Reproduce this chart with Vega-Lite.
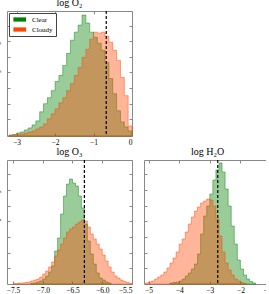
{
  "$schema": "https://vega.github.io/schema/vega-lite/v6.json",
  "padding": {"left": -9, "top": -3, "right": -6, "bottom": 0},
  "datasets": {
    "o2": [
      {"x": -3.2, "h": 1, "s": "Clear"}, {"x": -3.1, "h": 1.5, "s": "Clear"}, {"x": -3.0, "h": 3, "s": "Clear"}, {"x": -2.9, "h": 4, "s": "Clear"},
      {"x": -2.8, "h": 6, "s": "Clear"}, {"x": -2.7, "h": 8, "s": "Clear"}, {"x": -2.6, "h": 11, "s": "Clear"}, {"x": -2.5, "h": 15, "s": "Clear"},
      {"x": -2.4, "h": 24, "s": "Clear"}, {"x": -2.3, "h": 32, "s": "Clear"}, {"x": -2.2, "h": 38, "s": "Clear"}, {"x": -2.1, "h": 45, "s": "Clear"},
      {"x": -2.0, "h": 54, "s": "Clear"}, {"x": -1.9, "h": 60, "s": "Clear"}, {"x": -1.8, "h": 70, "s": "Clear"}, {"x": -1.7, "h": 82, "s": "Clear"},
      {"x": -1.6, "h": 95, "s": "Clear"}, {"x": -1.5, "h": 103, "s": "Clear"}, {"x": -1.4, "h": 110, "s": "Clear"}, {"x": -1.3, "h": 120, "s": "Clear"},
      {"x": -1.2, "h": 112, "s": "Clear"}, {"x": -1.1, "h": 103, "s": "Clear"}, {"x": -1.0, "h": 98, "s": "Clear"}, {"x": -0.9, "h": 92, "s": "Clear"},
      {"x": -0.8, "h": 85, "s": "Clear"}, {"x": -0.7, "h": 73, "s": "Clear"}, {"x": -0.6, "h": 57, "s": "Clear"}, {"x": -0.5, "h": 42, "s": "Clear"},
      {"x": -0.4, "h": 25, "s": "Clear"}, {"x": -0.3, "h": 14, "s": "Clear"}, {"x": -0.2, "h": 9, "s": "Clear"}, {"x": -0.1, "h": 5, "s": "Clear"},
      {"x": 0.0, "h": 0, "s": "Clear"},
      {"x": -3.2, "h": 0.5, "s": "Cloudy"}, {"x": -3.1, "h": 1, "s": "Cloudy"}, {"x": -3.0, "h": 1.5, "s": "Cloudy"}, {"x": -2.9, "h": 2, "s": "Cloudy"},
      {"x": -2.8, "h": 3, "s": "Cloudy"}, {"x": -2.7, "h": 4, "s": "Cloudy"}, {"x": -2.6, "h": 5, "s": "Cloudy"}, {"x": -2.5, "h": 7, "s": "Cloudy"},
      {"x": -2.4, "h": 9, "s": "Cloudy"}, {"x": -2.3, "h": 12, "s": "Cloudy"}, {"x": -2.2, "h": 17, "s": "Cloudy"}, {"x": -2.1, "h": 22, "s": "Cloudy"},
      {"x": -2.0, "h": 27, "s": "Cloudy"}, {"x": -1.9, "h": 33, "s": "Cloudy"}, {"x": -1.8, "h": 38, "s": "Cloudy"}, {"x": -1.7, "h": 45, "s": "Cloudy"},
      {"x": -1.6, "h": 52, "s": "Cloudy"}, {"x": -1.5, "h": 60, "s": "Cloudy"}, {"x": -1.4, "h": 68, "s": "Cloudy"}, {"x": -1.3, "h": 78, "s": "Cloudy"},
      {"x": -1.2, "h": 86, "s": "Cloudy"}, {"x": -1.1, "h": 96, "s": "Cloudy"}, {"x": -1.0, "h": 103, "s": "Cloudy"}, {"x": -0.9, "h": 102, "s": "Cloudy"},
      {"x": -0.8, "h": 103, "s": "Cloudy"}, {"x": -0.7, "h": 99, "s": "Cloudy"}, {"x": -0.6, "h": 93, "s": "Cloudy"}, {"x": -0.5, "h": 85, "s": "Cloudy"},
      {"x": -0.4, "h": 75, "s": "Cloudy"}, {"x": -0.3, "h": 58, "s": "Cloudy"}, {"x": -0.2, "h": 40, "s": "Cloudy"}, {"x": -0.1, "h": 10, "s": "Cloudy"},
      {"x": 0.0, "h": 0, "s": "Cloudy"}
    ],
    "o3": [
      {"x": -7.2, "h": 0.5, "s": "Clear"}, {"x": -7.15, "h": 1, "s": "Clear"}, {"x": -7.1, "h": 2, "s": "Clear"}, {"x": -7.05, "h": 3, "s": "Clear"},
      {"x": -7.0, "h": 5, "s": "Clear"}, {"x": -6.95, "h": 8, "s": "Clear"}, {"x": -6.9, "h": 12, "s": "Clear"}, {"x": -6.85, "h": 18, "s": "Clear"},
      {"x": -6.8, "h": 33, "s": "Clear"}, {"x": -6.75, "h": 46, "s": "Clear"}, {"x": -6.7, "h": 70, "s": "Clear"}, {"x": -6.65, "h": 88, "s": "Clear"},
      {"x": -6.6, "h": 100, "s": "Clear"}, {"x": -6.55, "h": 105, "s": "Clear"}, {"x": -6.5, "h": 101, "s": "Clear"}, {"x": -6.45, "h": 98, "s": "Clear"},
      {"x": -6.4, "h": 88, "s": "Clear"}, {"x": -6.35, "h": 76, "s": "Clear"}, {"x": -6.3, "h": 60, "s": "Clear"}, {"x": -6.25, "h": 43, "s": "Clear"},
      {"x": -6.2, "h": 30, "s": "Clear"}, {"x": -6.15, "h": 20, "s": "Clear"}, {"x": -6.1, "h": 11, "s": "Clear"}, {"x": -6.05, "h": 6, "s": "Clear"},
      {"x": -6.0, "h": 4, "s": "Clear"}, {"x": -5.95, "h": 2, "s": "Clear"}, {"x": -5.9, "h": 1, "s": "Clear"}, {"x": -5.85, "h": 0, "s": "Clear"},
      {"x": -7.5, "h": 0.5, "s": "Cloudy"}, {"x": -7.45, "h": 0.5, "s": "Cloudy"}, {"x": -7.4, "h": 1, "s": "Cloudy"}, {"x": -7.35, "h": 1, "s": "Cloudy"},
      {"x": -7.3, "h": 1.5, "s": "Cloudy"}, {"x": -7.25, "h": 2, "s": "Cloudy"}, {"x": -7.2, "h": 3, "s": "Cloudy"}, {"x": -7.15, "h": 4, "s": "Cloudy"},
      {"x": -7.1, "h": 5, "s": "Cloudy"}, {"x": -7.05, "h": 7, "s": "Cloudy"}, {"x": -7.0, "h": 10, "s": "Cloudy"}, {"x": -6.95, "h": 13, "s": "Cloudy"},
      {"x": -6.9, "h": 17, "s": "Cloudy"}, {"x": -6.85, "h": 22, "s": "Cloudy"}, {"x": -6.8, "h": 28, "s": "Cloudy"}, {"x": -6.75, "h": 34, "s": "Cloudy"},
      {"x": -6.7, "h": 40, "s": "Cloudy"}, {"x": -6.65, "h": 46, "s": "Cloudy"}, {"x": -6.6, "h": 52, "s": "Cloudy"}, {"x": -6.55, "h": 55, "s": "Cloudy"},
      {"x": -6.5, "h": 57, "s": "Cloudy"}, {"x": -6.45, "h": 60, "s": "Cloudy"}, {"x": -6.4, "h": 62, "s": "Cloudy"}, {"x": -6.35, "h": 64, "s": "Cloudy"},
      {"x": -6.3, "h": 63, "s": "Cloudy"}, {"x": -6.25, "h": 57, "s": "Cloudy"}, {"x": -6.2, "h": 50, "s": "Cloudy"}, {"x": -6.15, "h": 45, "s": "Cloudy"},
      {"x": -6.1, "h": 40, "s": "Cloudy"}, {"x": -6.05, "h": 35, "s": "Cloudy"}, {"x": -6.0, "h": 29, "s": "Cloudy"}, {"x": -5.95, "h": 23, "s": "Cloudy"},
      {"x": -5.9, "h": 17, "s": "Cloudy"}, {"x": -5.85, "h": 12, "s": "Cloudy"}, {"x": -5.8, "h": 8, "s": "Cloudy"}, {"x": -5.75, "h": 6, "s": "Cloudy"},
      {"x": -5.7, "h": 4, "s": "Cloudy"}, {"x": -5.65, "h": 2.5, "s": "Cloudy"}, {"x": -5.6, "h": 1.5, "s": "Cloudy"}, {"x": -5.55, "h": 0.5, "s": "Cloudy"},
      {"x": -5.5, "h": 0, "s": "Cloudy"}
    ],
    "h2o": [
      {"x": -4.3, "h": 1, "s": "Clear"}, {"x": -4.2, "h": 1.5, "s": "Clear"}, {"x": -4.1, "h": 2, "s": "Clear"}, {"x": -4.0, "h": 3, "s": "Clear"},
      {"x": -3.9, "h": 5, "s": "Clear"}, {"x": -3.8, "h": 8, "s": "Clear"}, {"x": -3.7, "h": 11, "s": "Clear"}, {"x": -3.6, "h": 15, "s": "Clear"},
      {"x": -3.5, "h": 20, "s": "Clear"}, {"x": -3.4, "h": 30, "s": "Clear"}, {"x": -3.3, "h": 50, "s": "Clear"}, {"x": -3.2, "h": 68, "s": "Clear"},
      {"x": -3.1, "h": 78, "s": "Clear"}, {"x": -3.0, "h": 90, "s": "Clear"}, {"x": -2.9, "h": 104, "s": "Clear"}, {"x": -2.8, "h": 114, "s": "Clear"},
      {"x": -2.7, "h": 121, "s": "Clear"}, {"x": -2.6, "h": 112, "s": "Clear"}, {"x": -2.5, "h": 95, "s": "Clear"}, {"x": -2.4, "h": 78, "s": "Clear"},
      {"x": -2.3, "h": 58, "s": "Clear"}, {"x": -2.2, "h": 40, "s": "Clear"}, {"x": -2.1, "h": 24, "s": "Clear"}, {"x": -2.0, "h": 15, "s": "Clear"},
      {"x": -1.9, "h": 9, "s": "Clear"}, {"x": -1.8, "h": 5, "s": "Clear"}, {"x": -1.7, "h": 2.5, "s": "Clear"}, {"x": -1.6, "h": 1, "s": "Clear"},
      {"x": -1.5, "h": 0, "s": "Clear"},
      {"x": -5.1, "h": 1, "s": "Cloudy"}, {"x": -5.0, "h": 2, "s": "Cloudy"}, {"x": -4.9, "h": 3, "s": "Cloudy"}, {"x": -4.8, "h": 5, "s": "Cloudy"},
      {"x": -4.7, "h": 7, "s": "Cloudy"}, {"x": -4.6, "h": 9, "s": "Cloudy"}, {"x": -4.5, "h": 12, "s": "Cloudy"}, {"x": -4.4, "h": 16, "s": "Cloudy"},
      {"x": -4.3, "h": 21, "s": "Cloudy"}, {"x": -4.2, "h": 26, "s": "Cloudy"}, {"x": -4.1, "h": 32, "s": "Cloudy"}, {"x": -4.0, "h": 40, "s": "Cloudy"},
      {"x": -3.9, "h": 45, "s": "Cloudy"}, {"x": -3.8, "h": 52, "s": "Cloudy"}, {"x": -3.7, "h": 60, "s": "Cloudy"}, {"x": -3.6, "h": 67, "s": "Cloudy"},
      {"x": -3.5, "h": 73, "s": "Cloudy"}, {"x": -3.4, "h": 77, "s": "Cloudy"}, {"x": -3.3, "h": 81, "s": "Cloudy"}, {"x": -3.2, "h": 83, "s": "Cloudy"},
      {"x": -3.1, "h": 85, "s": "Cloudy"}, {"x": -3.0, "h": 84, "s": "Cloudy"}, {"x": -2.9, "h": 78, "s": "Cloudy"}, {"x": -2.8, "h": 65, "s": "Cloudy"},
      {"x": -2.7, "h": 48, "s": "Cloudy"}, {"x": -2.6, "h": 32, "s": "Cloudy"}, {"x": -2.5, "h": 21, "s": "Cloudy"}, {"x": -2.4, "h": 14, "s": "Cloudy"},
      {"x": -2.3, "h": 9, "s": "Cloudy"}, {"x": -2.2, "h": 5, "s": "Cloudy"}, {"x": -2.1, "h": 3, "s": "Cloudy"}, {"x": -2.0, "h": 1.5, "s": "Cloudy"},
      {"x": -1.9, "h": 0.5, "s": "Cloudy"}, {"x": -1.8, "h": 0, "s": "Cloudy"}
    ]
  },
  "vconcat": [
    {
      "width": 125, "height": 125,
      "title": "log O₂",
      "layer": [
        {"data": {"name": "o2"},
         "mark": {"type": "area", "interpolate": "step-after", "fillOpacity": 0.4, "strokeOpacity": 0.45, "strokeWidth": 1},
         "encoding": {
           "x": {"field": "x", "type": "quantitative", "scale": {"domain": [-3.25, 0], "nice": false, "zero": false}, "axis": {"values": [-3, -2, -1, 0], "format": "d", "title": null}},
           "y": {"field": "h", "type": "quantitative", "stack": null, "scale": {"domain": [0, 124], "nice": false}, "axis": {"values": [16.5, 32, 47.5, 63, 78.5, 94, 109.5], "labels": false, "title": "Probability density"}},
           "color": {"field": "s", "type": "nominal", "scale": {"domain": ["Clear", "Cloudy"], "range": ["#008000", "#ff4500"]},
                     "legend": {"title": null, "orient": "top-left", "offset": 2, "padding": 3, "symbolType": "M-1,-1H5V1H-1Z", "symbolSize": 18, "symbolStrokeWidth": 0, "symbolOpacity": 1, "labelFont": "Liberation Serif", "labelFontSize": 7, "labelOffset": 13, "rowPadding": 2, "strokeColor": "#444", "fillColor": "white", "cornerRadius": 0}},
           "stroke": {"field": "s", "type": "nominal", "scale": {"domain": ["Clear", "Cloudy"], "range": ["#008000", "#ff4500"]}, "legend": null}
         }},
        {"data": {"values": [{"x": -0.67}]},
         "mark": {"type": "rule", "color": "black", "strokeDash": [3, 2], "strokeWidth": 1.2},
         "encoding": {"x": {"field": "x", "type": "quantitative", "scale": {"domain": [-3.25, 0], "nice": false, "zero": false}, "axis": null}}},
        {"data": {"name": "o2"},
         "mark": {"type": "point", "opacity": 0},
         "encoding": {
           "x": {"field": "x", "type": "quantitative", "scale": {"domain": [-3.25, 0], "nice": false, "zero": false}, "axis": {"orient": "top", "values": [-3, -2, -1, 0], "labels": false, "title": null}},
           "y": {"field": "h", "type": "quantitative", "scale": {"domain": [0, 124], "nice": false}, "axis": {"orient": "right", "values": [16.5, 32, 47.5, 63, 78.5, 94, 109.5], "labels": false, "title": null}}
         }}
      ],
      "resolve": {"axis": {"x": "independent", "y": "independent"}}
    },
    {
      "hconcat": [
        {
          "width": 125, "height": 124,
          "title": "log O₃",
          "layer": [
            {"data": {"name": "o3"},
             "mark": {"type": "area", "interpolate": "step-after", "fillOpacity": 0.4, "strokeOpacity": 0.45, "strokeWidth": 1},
             "encoding": {
               "x": {"field": "x", "type": "quantitative", "scale": {"domain": [-7.6, -5.5], "nice": false, "zero": false}, "axis": {"values": [-7.5, -7.0, -6.5, -6.0, -5.5], "format": ".1f", "title": null}},
               "y": {"field": "h", "type": "quantitative", "stack": null, "scale": {"domain": [0, 124], "nice": false}, "axis": {"values": [16, 31, 47, 63, 78, 94, 110], "labels": false, "title": "Probability density"}},
               "color": {"field": "s", "type": "nominal", "scale": {"domain": ["Clear", "Cloudy"], "range": ["#008000", "#ff4500"]}, "legend": null},
               "stroke": {"field": "s", "type": "nominal", "scale": {"domain": ["Clear", "Cloudy"], "range": ["#008000", "#ff4500"]}, "legend": null}
             }},
            {"data": {"values": [{"x": -6.3}]},
             "mark": {"type": "rule", "color": "black", "strokeDash": [3, 2], "strokeWidth": 1.2},
             "encoding": {"x": {"field": "x", "type": "quantitative", "scale": {"domain": [-7.6, -5.5], "nice": false, "zero": false}, "axis": null}}},
            {"data": {"name": "o3"},
             "mark": {"type": "point", "opacity": 0},
             "encoding": {
               "x": {"field": "x", "type": "quantitative", "scale": {"domain": [-7.6, -5.5], "nice": false, "zero": false}, "axis": {"orient": "top", "values": [-7.5, -7.0, -6.5, -6.0, -5.5], "labels": false, "title": null}},
               "y": {"field": "h", "type": "quantitative", "scale": {"domain": [0, 124], "nice": false}, "axis": {"orient": "right", "values": [16, 31, 47, 63, 78, 94, 110], "labels": false, "title": null}}
             }}
          ],
          "resolve": {"axis": {"x": "independent", "y": "independent"}}
        },
        {
          "width": 127, "height": 124,
          "title": "log H₂O",
          "layer": [
            {"data": {"name": "h2o"},
             "mark": {"type": "area", "interpolate": "step-after", "fillOpacity": 0.4, "strokeOpacity": 0.45, "strokeWidth": 1},
             "encoding": {
               "x": {"field": "x", "type": "quantitative", "scale": {"domain": [-5.15, -1], "nice": false, "zero": false}, "axis": {"values": [-5, -4, -3, -2, -1], "format": "d", "title": null}},
               "y": {"field": "h", "type": "quantitative", "stack": null, "scale": {"domain": [0, 124], "nice": false}, "axis": {"values": [16, 31, 47, 63, 78, 94, 110], "labels": false, "title": null}},
               "color": {"field": "s", "type": "nominal", "scale": {"domain": ["Clear", "Cloudy"], "range": ["#008000", "#ff4500"]}, "legend": null},
               "stroke": {"field": "s", "type": "nominal", "scale": {"domain": ["Clear", "Cloudy"], "range": ["#008000", "#ff4500"]}, "legend": null}
             }},
            {"data": {"values": [{"x": -2.74}]},
             "mark": {"type": "rule", "color": "black", "strokeDash": [3, 2], "strokeWidth": 1.2},
             "encoding": {"x": {"field": "x", "type": "quantitative", "scale": {"domain": [-5.15, -1], "nice": false, "zero": false}, "axis": null}}},
            {"data": {"name": "h2o"},
             "mark": {"type": "point", "opacity": 0},
             "encoding": {
               "x": {"field": "x", "type": "quantitative", "scale": {"domain": [-5.15, -1], "nice": false, "zero": false}, "axis": {"orient": "top", "values": [-5, -4, -3, -2, -1], "labels": false, "title": null}},
               "y": {"field": "h", "type": "quantitative", "scale": {"domain": [0, 124], "nice": false}, "axis": {"orient": "right", "values": [16, 31, 47, 63, 78, 94, 110], "labels": false, "title": null}}
             }}
          ],
          "resolve": {"axis": {"x": "independent", "y": "independent"}}
        }
      ],
      "spacing": 6,
      "resolve": {"scale": {"x": "independent", "y": "independent", "color": "independent", "stroke": "independent"}}
    }
  ],
  "spacing": 0,
  "resolve": {"scale": {"x": "independent", "y": "independent", "color": "independent", "stroke": "independent"}},
  "config": {
    "font": "Liberation Serif",
    "view": {"stroke": "#888", "strokeWidth": 1},
    "axis": {"domain": false, "grid": false, "labelFont": "Liberation Serif", "labelFontSize": 7.5, "labelColor": "#000", "tickColor": "#888", "tickSize": -3, "labelPadding": 5, "titleFont": "Liberation Serif", "titleFontSize": 9, "titleFontWeight": "normal", "titleColor": "#000", "titlePadding": 6},
    "title": {"font": "Liberation Serif", "fontSize": 10, "fontWeight": "normal", "offset": 2, "color": "#000"}
  }
}
